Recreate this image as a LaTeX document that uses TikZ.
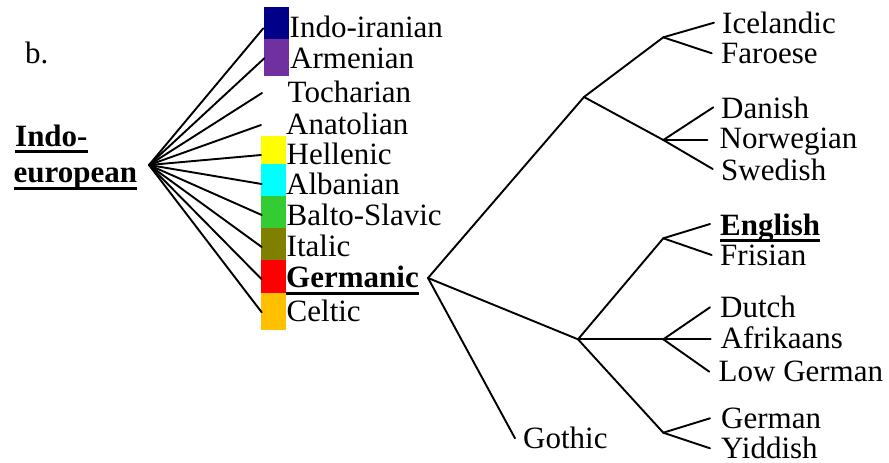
\documentclass[tikz,border=0pt]{standalone}
\usepackage{fontspec}
\setmainfont{Liberation Serif}
\usetikzlibrary{calc}
\definecolor{cIndo}{HTML}{000088}
\definecolor{cArm}{HTML}{7030A0}
\definecolor{cHel}{HTML}{FFFF00}
\definecolor{cAlb}{HTML}{00FFFF}
\definecolor{cBal}{HTML}{33CC33}
\definecolor{cIta}{HTML}{808000}
\definecolor{cGer}{HTML}{FF0000}
\definecolor{cCel}{HTML}{FFC000}
\begin{document}
\begin{tikzpicture}[x=1pt,y=-1pt,
  lbl/.style={anchor=base west,inner sep=0pt,font=\fontsize{31}{31}\selectfont},
  blbl/.style={lbl,font=\fontsize{31}{31}\selectfont\bfseries},
  branch/.style={line width=1.9pt,line cap=round},
  uline/.style={line width=3pt}]
\useasboundingbox (0,0) rectangle (889,463);
% colour boxes
\fill[cIndo] (264,7) rectangle (289,39);
\fill[cArm] (264,39) rectangle (289,76);
\fill[cHel] (261,136) rectangle (286,164);
\fill[cAlb] (261,164) rectangle (286,196);
\fill[cBal] (261,196) rectangle (286,227.5);
\fill[cIta] (261,227.5) rectangle (286,260);
\fill[cGer] (261,260) rectangle (286,292.5);
\fill[cCel] (261,292.5) rectangle (286,329.5);
% labels
\node[lbl] (b) at (25,63.3) {b.};
\node[blbl] (ie1) at (15,146) {Indo-};
\node[blbl] (ie2) at (13.5,182) {european};
\node[lbl] (ii) at (289.5,37.8) {Indo-iranian};
\node[lbl] (arm) at (290,68.8) {Armenian};
\node[lbl] (toc) at (287.5,102.5) {Tocharian};
\node[lbl] (ana) at (286,134) {Anatolian};
\node[lbl] (hel) at (286.5,164) {Hellenic};
\node[lbl] (alb) at (286,194) {Albanian};
\node[lbl] (bal) at (286.5,225.5) {Balto-Slavic};
\node[lbl] (ita) at (286.5,256.5) {Italic};
\node[blbl] (ger) at (286,287.5) {Germanic};
\node[lbl] (cel) at (286.5,321) {Celtic};
\node[lbl] (got) at (523,448.5) {Gothic};
\node[lbl] (ice) at (722,33) {Icelandic};
\node[lbl] (far) at (721,63) {Faroese};
\node[lbl] (dan) at (721,118.5) {Danish};
\node[lbl] (nor) at (719.5,148.5) {Norwegian};
\node[lbl] (swe) at (721,180) {Swedish};
\node[blbl] (eng) at (720,235) {English};
\node[lbl] (fri) at (720,265.3) {Frisian};
\node[lbl] (dut) at (720,317.5) {Dutch};
\node[lbl] (afr) at (720.5,348.5) {Afrikaans};
\node[lbl] (low) at (718.5,381.7) {Low German};
\node[lbl] (gem) at (721,428.5) {German};
\node[lbl] (yid) at (721,458.3) {Yiddish};
% underlines
\draw[uline] ($(ie1.base west)+(0,5.5)$) -- ($(ie1.base east)+(0,5.5)$);
\draw[uline] ($(ie2.base west)+(0,6.5)$) -- ($(ie2.base east)+(0,6.5)$);
\draw[uline] ($(ger.base west)+(0,6)$) -- ($(ger.base east)+(0,6)$);
\draw[uline] ($(eng.base west)+(0,5.7)$) -- ($(eng.base east)+(0,5.7)$);
% branch points
\coordinate (IE) at (149,165);
\coordinate (G) at (428,278);
\coordinate (N) at (584,97);
\coordinate (W) at (578,339.3);
\coordinate (IF) at (663.3,37.3);
\coordinate (DNS) at (663.3,140);
\coordinate (EF) at (663.3,238.3);
\coordinate (DAL) at (663.3,339.3);
\coordinate (GY) at (663.3,432.7);
% leaf ends
\coordinate (eii) at (263.3,28.3);
\coordinate (earm) at (264.3,58.3);
\coordinate (etoc) at (262,93);
\coordinate (eana) at (261,125);
\coordinate (ehel) at (261,155);
\coordinate (ealb) at (261.7,184);
\coordinate (ebal) at (261.7,215);
\coordinate (eita) at (261.7,247);
\coordinate (eger) at (261.7,279.3);
\coordinate (ecel) at (261.7,312.3);
\coordinate (egot) at (515,438.3);
\coordinate (eice) at (714,22.7);
\coordinate (efar) at (711.7,53.3);
\coordinate (edan) at (713.3,107.3);
\coordinate (enor) at (707.3,140);
\coordinate (eswe) at (712.7,169);
\coordinate (eeng) at (710,224);
\coordinate (efri) at (711.7,255);
\coordinate (edut) at (710,307.3);
\coordinate (eafr) at (710.7,339.3);
\coordinate (elow) at (709.3,371.7);
\coordinate (egem) at (710,418.3);
\coordinate (eyid) at (710,448.3);
% connectors
\foreach \e in {eii,earm,etoc,eana,ehel,ealb,ebal,eita,eger,ecel}
  \draw[branch] (IE) -- (\e);
\draw[branch] (G) -- (N);
\draw[branch] (G) -- (W);
\draw[branch] (G) -- (egot);
\draw[branch] (N) -- (IF);
\draw[branch] (N) -- (DNS);
\draw[branch] (IF) -- (eice);
\draw[branch] (IF) -- (efar);
\draw[branch] (DNS) -- (edan);
\draw[branch] (DNS) -- (enor);
\draw[branch] (DNS) -- (eswe);
\draw[branch] (W) -- (EF);
\draw[branch] (W) -- (DAL);
\draw[branch] (W) -- (GY);
\draw[branch] (EF) -- (eeng);
\draw[branch] (EF) -- (efri);
\draw[branch] (DAL) -- (edut);
\draw[branch] (DAL) -- (eafr);
\draw[branch] (DAL) -- (elow);
\draw[branch] (GY) -- (egem);
\draw[branch] (GY) -- (eyid);
\end{tikzpicture}
\end{document}
